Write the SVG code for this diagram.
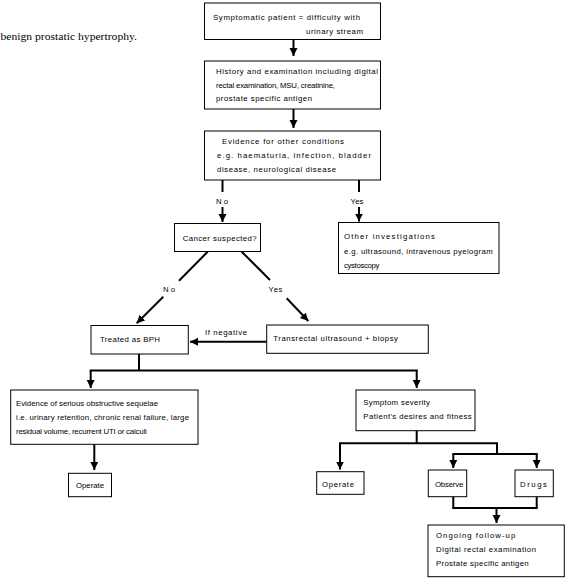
<svg xmlns="http://www.w3.org/2000/svg" width="567" height="579" viewBox="0 0 567 579">
<style>
  .box { fill: #fff; stroke: #000; stroke-width: 1; }
  .t { font-family: "Liberation Sans", Arial, sans-serif; font-size: 7.8px; fill: #000; }
  .c { stroke: #000; stroke-width: 2; fill: none; }
  .a { stroke: #000; stroke-width: 2; fill: none; marker-end: url(#ah); }
  .title { font-family: "Liberation Serif", "Times New Roman", serif; font-size: 10.5px; fill: #000; }
</style>
<defs>
  <marker id="ah" markerUnits="userSpaceOnUse" markerWidth="9" markerHeight="9" refX="8" refY="4" orient="auto">
    <path d="M0,0 L8,4 L0,8 z" fill="#000"/>
  </marker>
</defs>
<rect width="567" height="579" fill="#fff"/>
<text class="title" x="0.5" y="40" textLength="136.5" lengthAdjust="spacingAndGlyphs">benign prostatic hypertrophy.</text>

<g id="connectors">
  <line class="a" x1="293.5" y1="39.5" x2="293.5" y2="56"/>
  <line class="a" x1="293.5" y1="109" x2="293.5" y2="128"/>
  <line class="c" x1="222.5" y1="180" x2="222.5" y2="192"/>
  <line class="a" x1="222.5" y1="207" x2="222.5" y2="222"/>
  <line class="c" x1="359" y1="180" x2="359" y2="192"/>
  <line class="a" x1="359" y1="207" x2="359" y2="221.5"/>
  <line class="c" x1="207.7" y1="251.7" x2="179" y2="280.7"/>
  <line class="c" x1="241.7" y1="251.7" x2="270" y2="280"/>
  <line class="a" x1="163.3" y1="296.7" x2="136.7" y2="323.3"/>
  <line class="a" x1="286.7" y1="298.3" x2="308.3" y2="321"/>
  <line class="a" x1="266.7" y1="341.7" x2="190" y2="341.7"/>
  <line class="c" x1="139" y1="354" x2="139" y2="370.5"/>
  <line class="c" x1="89.7" y1="370.5" x2="417.7" y2="370.5"/>
  <line class="a" x1="90.7" y1="370.5" x2="90.7" y2="388"/>
  <line class="a" x1="416.7" y1="370.5" x2="416.7" y2="388"/>
  <line class="a" x1="94.3" y1="444.3" x2="94.3" y2="470"/>
  <line class="c" x1="416.7" y1="430.7" x2="416.7" y2="443.3"/>
  <line class="c" x1="339" y1="443.3" x2="498" y2="443.3"/>
  <line class="a" x1="340" y1="443.3" x2="340" y2="469.5"/>
  <line class="c" x1="497" y1="443.3" x2="497" y2="454"/>
  <line class="c" x1="452.3" y1="454" x2="537.7" y2="454"/>
  <line class="a" x1="453.3" y1="454" x2="453.3" y2="468"/>
  <line class="a" x1="536.7" y1="454" x2="536.7" y2="468"/>
  <line class="c" x1="453.3" y1="496.7" x2="453.3" y2="508"/>
  <line class="c" x1="536.7" y1="496.7" x2="536.7" y2="508"/>
  <line class="c" x1="452.3" y1="508" x2="537.7" y2="508"/>
  <line class="a" x1="496.5" y1="508" x2="496.5" y2="523"/>
</g>

<g id="labels">
  <text class="t" x="216" y="203.5" textLength="12" lengthAdjust="spacing">No</text>
  <text class="t" x="350.5" y="203.5" textLength="13" lengthAdjust="spacing">Yes</text>
  <text class="t" x="163" y="292" textLength="12" lengthAdjust="spacing">No</text>
  <text class="t" x="268.5" y="292" textLength="14" lengthAdjust="spacing">Yes</text>
  <text class="t" x="205" y="334.5" textLength="42" lengthAdjust="spacing">If negative</text>
</g>

<g id="n1">
  <rect class="box" x="204.5" y="3" width="176" height="36.5"/>
  <text class="t" x="213" y="19.5" textLength="147" lengthAdjust="spacing">Symptomatic patient = difficulty with</text>
  <text class="t" x="306" y="33.5" textLength="57" lengthAdjust="spacing">urinary stream</text>
</g>
<g id="n2">
  <rect class="box" x="204.5" y="61" width="176" height="48"/>
  <text class="t" x="216" y="73.5" textLength="162" lengthAdjust="spacing">History and examination including digital</text>
  <text class="t" x="216" y="87.5" textLength="119" lengthAdjust="spacing">rectal examination, MSU, creatinine,</text>
  <text class="t" x="216" y="101" textLength="96" lengthAdjust="spacing">prostate specific antigen</text>
</g>
<g id="n3">
  <rect class="box" x="204.5" y="131" width="176" height="49"/>
  <text class="t" x="222" y="143.5" textLength="122" lengthAdjust="spacing">Evidence for other conditions</text>
  <text class="t" x="217" y="157.5" textLength="154" lengthAdjust="spacing">e.g. haematuria, infection, bladder</text>
  <text class="t" x="217" y="171.5" textLength="119" lengthAdjust="spacing">disease, neurological disease</text>
</g>
<g id="n4">
  <rect class="box" x="174.5" y="223.5" width="86" height="28"/>
  <text class="t" x="182.7" y="240.5" textLength="74" lengthAdjust="spacing">Cancer suspected?</text>
</g>
<g id="n5">
  <rect class="box" x="338.5" y="222.5" width="160.5" height="51"/>
  <text class="t" x="344" y="238.5" textLength="91" lengthAdjust="spacing">Other investigations</text>
  <text class="t" x="344" y="253.5" textLength="148.7" lengthAdjust="spacing">e.g. ultrasound, intravenous pyelogram</text>
  <text class="t" x="344" y="267.5" textLength="35.3" lengthAdjust="spacing">cystoscopy</text>
</g>
<g id="n6">
  <rect class="box" x="91" y="325.5" width="97.3" height="28.5"/>
  <text class="t" x="100" y="342" textLength="60" lengthAdjust="spacing">Treated as BPH</text>
</g>
<g id="n7">
  <rect class="box" x="266.7" y="325" width="161.6" height="28.3"/>
  <text class="t" x="273.3" y="341" textLength="124.7" lengthAdjust="spacing">Transrectal ultrasound + biopsy</text>
</g>
<g id="n8">
  <rect class="box" x="10.7" y="390" width="187.3" height="54.3"/>
  <text class="t" x="16" y="406" textLength="142" lengthAdjust="spacing">Evidence of serious obstructive sequelae</text>
  <text class="t" x="16" y="420" textLength="173" lengthAdjust="spacing">i.e. urinary retention, chronic renal failure, large</text>
  <text class="t" x="16" y="433.5" textLength="130.7" lengthAdjust="spacing">residual volume, recurrent UTI or calculi</text>
</g>
<g id="n9">
  <rect class="box" x="356" y="390" width="119" height="40.7"/>
  <text class="t" x="363.3" y="405" textLength="66.7" lengthAdjust="spacing">Symptom severity</text>
  <text class="t" x="363.3" y="419" textLength="108.4" lengthAdjust="spacing">Patient's desires and fitness</text>
</g>
<g id="n10">
  <rect class="box" x="68.5" y="473.3" width="43" height="23.4"/>
  <text class="t" x="76" y="487.5" textLength="28" lengthAdjust="spacing">Operate</text>
</g>
<g id="n11">
  <rect class="box" x="316.7" y="471.7" width="47.3" height="22.6"/>
  <text class="t" x="322" y="486.5" textLength="32" lengthAdjust="spacing">Operate</text>
</g>
<g id="n12">
  <rect class="box" x="428.3" y="470" width="38.4" height="26.7"/>
  <text class="t" x="435" y="487" textLength="28.3" lengthAdjust="spacing">Observe</text>
</g>
<g id="n13">
  <rect class="box" x="515" y="470" width="38.3" height="26.7"/>
  <text class="t" x="520" y="486.5" textLength="27" lengthAdjust="spacing">Drugs</text>
</g>
<g id="n14">
  <rect class="box" x="428" y="525" width="136.3" height="51.7"/>
  <text class="t" x="436" y="538" textLength="79.3" lengthAdjust="spacing">Ongoing follow-up</text>
  <text class="t" x="436" y="552" textLength="100" lengthAdjust="spacing">Digital rectal examination</text>
  <text class="t" x="436" y="566" textLength="92.7" lengthAdjust="spacing">Prostate specific antigen</text>
</g>
</svg>
